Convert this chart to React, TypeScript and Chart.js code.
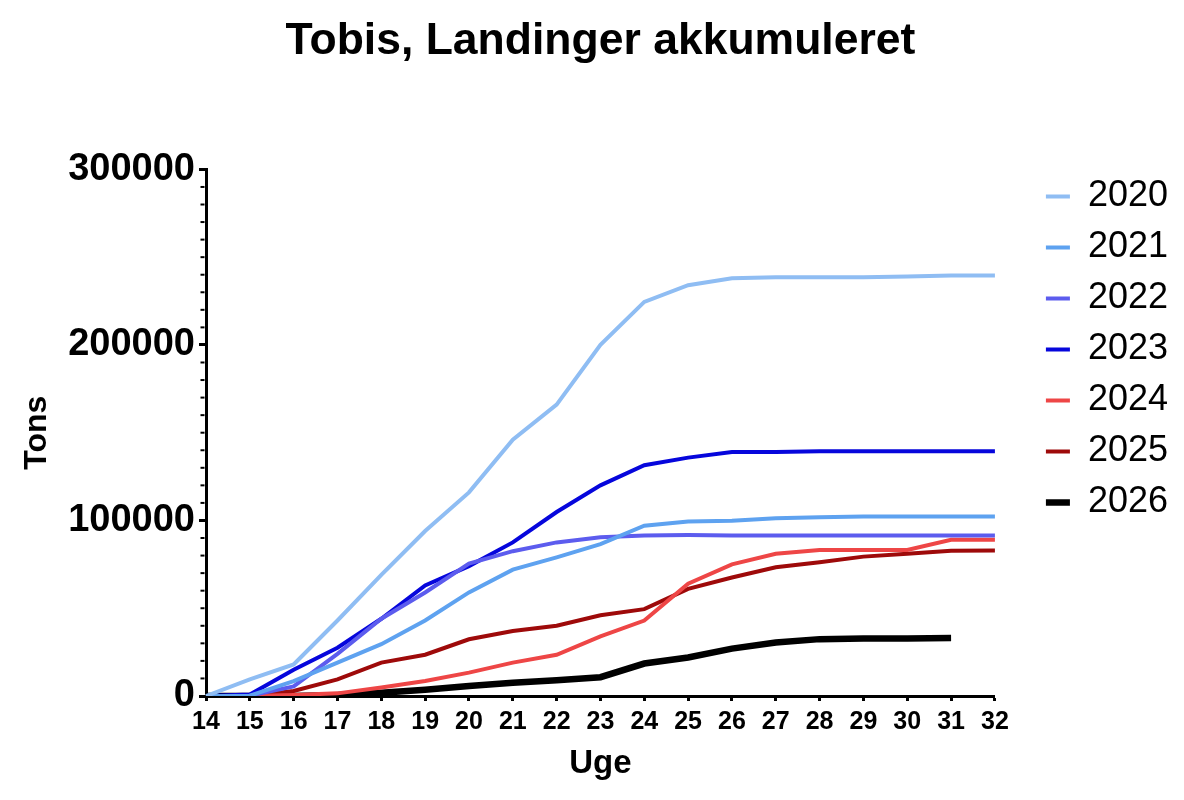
import { useEffect, useRef } from "react"
import { Chart, registerables } from "chart.js"

Chart.register(...registerables)

// Uger på x-aksen
const weeks = ["14", "15", "16", "17", "18", "19", "20", "21", "22", "23", "24", "25", "26", "27", "28", "29", "30", "31", "32"]

// Akkumulerede landinger i tons pr. år
const tons2020 = [0, 9500, 18000, 43000, 69000, 94000, 116000, 146000, 166000, 200000, 224500, 234000, 238000, 238500, 238500, 238500, 239000, 239500, 239500]
const tons2021 = [0, 200, 8500, 19000, 29500, 43000, 59000, 72000, 79000, 86500, 97000, 99400, 99800, 101200, 101800, 102200, 102300, 102300, 102300]
const tons2022 = [0, 200, 5500, 24000, 44000, 59000, 75500, 82500, 87500, 90500, 91500, 91700, 91500, 91500, 91400, 91500, 91500, 91500, 91500]
const tons2023 = [0, 800, 15000, 27500, 44000, 63000, 74000, 87500, 104800, 120000, 131500, 135800, 139000, 139000, 139400, 139400, 139400, 139400, 139400]
const tons2024 = [0, 0, 600, 1500, 4800, 8600, 13300, 19000, 23500, 34000, 43000, 64000, 75000, 81000, 83200, 83200, 83200, 89000, 89000]
const tons2025 = [0, 0, 2900, 9500, 19000, 23500, 32300, 37000, 40000, 46000, 49500, 61000, 67500, 73300, 76200, 79400, 81000, 82800, 82900]
const tons2026 = [0, 0, 0, 600, 1900, 3600, 5700, 7600, 9000, 10700, 18500, 21900, 27000, 30500, 32400, 32700, 32800, 33000, null]

const years = ["2020", "2021", "2022", "2023", "2024", "2025", "2026"]
const series = [tons2020, tons2021, tons2022, tons2023, tons2024, tons2025, tons2026]
const colors = ["#8fbdf3", "#5ea2f0", "#5c5cee", "#0606dc", "#ee4646", "#9e0a0a", "#000000"]
const widths = [4, 4, 4, 4, 4, 4, 6.5]

// y-aksen: store og små streger
const yMax = 300000
const yMajorStep = 100000
const yMinorStep = 10000

const FONT = "'Liberation Sans', Arial, sans-serif"

// små streger på y-aksen mellem de store
const minorTicks = {
  id: "minorTicks",
  afterDraw(chart: Chart) {
    const scale = chart.scales.y
    const ctx = chart.ctx
    const x = scale.right - 1.5
    ctx.save()
    ctx.strokeStyle = "#000"
    ctx.lineWidth = 2
    for (let v = yMinorStep; v < yMax; v += yMinorStep) {
      if (v % yMajorStep === 0) continue
      const y = scale.getPixelForValue(v)
      ctx.beginPath()
      ctx.moveTo(x, y)
      ctx.lineTo(x - 4, y)
      ctx.stroke()
    }
    ctx.restore()
  },
}

export default function App() {
  const chartRef = useRef<HTMLCanvasElement>(null)
  const chartInstance = useRef<Chart | null>(null)

  useEffect(() => {
    if (!chartRef.current) return
    if (chartInstance.current) chartInstance.current.destroy()
    const ctx = chartRef.current.getContext("2d")
    if (!ctx) return

    chartInstance.current = new Chart(ctx, {
      type: "line",
      data: {
        labels: weeks,
        datasets: years.map((year, i) => ({
          label: year,
          data: series[i],
          borderColor: colors[i],
          backgroundColor: colors[i],
          borderWidth: widths[i],
          pointRadius: 0,
          tension: 0,
          fill: false,
          yAxisID: "y",
        })),
      },
      options: {
        animation: false,
        responsive: true,
        maintainAspectRatio: false,
        layout: { padding: { left: 0, right: 6, top: 0, bottom: 0 } },
        plugins: {
          title: {
            display: true,
            text: "Tobis, Landinger akkumuleret",
            color: "#000",
            fullSize: false,
            font: { family: FONT, size: 44.5, weight: "bold" },
            padding: { top: 15, bottom: 101 },
          },
          legend: {
            position: "right",
            align: "start",
            fullSize: false,
            title: {
              display: true,
              text: "",
              font: { size: 10, lineHeight: 1 },
              padding: { top: -16, bottom: 0 },
            },
            labels: {
              color: "#000",
              font: { family: FONT, size: 36 },
              usePointStyle: true,
              pointStyle: "line",
              pointStyleWidth: 24,
              boxHeight: 36,
              padding: 15,
            },
          },
          tooltip: { enabled: false },
        },
        scales: {
          x: {
            type: "category",
            offset: false,
            grid: { display: true, drawOnChartArea: false, tickLength: 5, tickWidth: 3, tickColor: "#000" },
            border: { display: true, color: "#000", width: 3 },
            ticks: {
              color: "#000",
              font: { family: FONT, size: 25, weight: "bold" },
              padding: 6,
              maxRotation: 0,
              autoSkip: false,
            },
            title: {
              display: true,
              text: "Uge",
              color: "#000",
              font: { family: FONT, size: 33, weight: "bold" },
              padding: { top: 0, bottom: 16 },
            },
            afterFit: (scale) => {
              scale.height = 104
            },
          },
          y: {
            type: "linear",
            position: "left",
            min: 0,
            max: yMax,
            grid: { display: true, drawOnChartArea: false, tickLength: 7, tickWidth: 3, tickColor: "#000" },
            border: { display: true, color: "#000", width: 3 },
            ticks: {
              stepSize: yMajorStep,
              color: "#000",
              font: { family: FONT, size: 38, weight: "bold" },
              padding: 4,
              callback: (value) => String(value),
            },
            title: {
              display: true,
              text: "Tons",
              color: "#000",
              font: { family: FONT, size: 32, weight: "bold" },
              padding: { top: 18, bottom: 0 },
            },
            afterFit: (scale) => {
              scale.width = 206
            },
          },
          // tom akse der holder plads mellem plot og forklaring
          pad: {
            type: "linear",
            position: "right",
            display: true,
            grid: { display: false },
            border: { display: false },
            ticks: { display: false },
            afterFit: (scale) => {
              scale.width = 36
            },
          },
        },
      },
      plugins: [minorTicks],
    })

    return () => {
      if (chartInstance.current) {
        chartInstance.current.destroy()
        chartInstance.current = null
      }
    }
  }, [])

  return (
    <div style={{ position: "absolute", left: 0, top: 0, width: 1184, height: 800, background: "#fff" }}>
      <canvas ref={chartRef} />
    </div>
  )
}
